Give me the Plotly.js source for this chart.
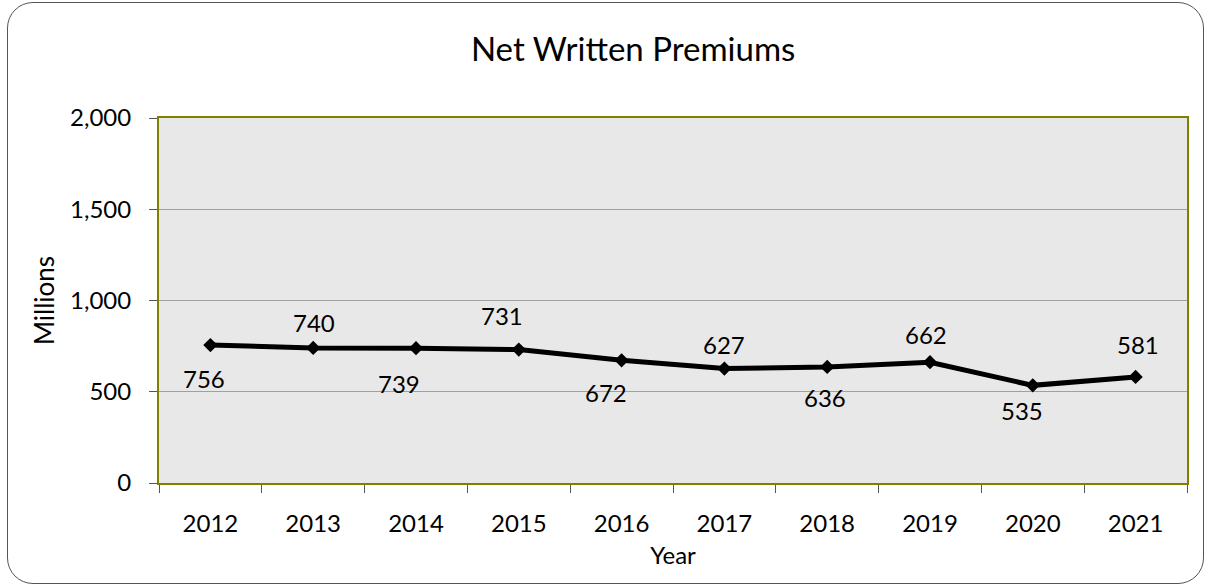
<!DOCTYPE html>
<html>
<head>
<meta charset="utf-8">
<script src="https://cdn.plot.ly/plotly-3.0.1.min.js"></script>
<style>
  html, body { margin: 0; padding: 0; background: #ffffff; }
  #frame { position: absolute; left: 7px; top: 2px; width: 1197px; height: 582px;
           border: 1px solid #555; border-radius: 26px; box-sizing: border-box; }
  #chart { position: absolute; left: 0; top: 0; width: 1206px; height: 586px; }
</style>
</head>
<body>
<div id="frame"></div>
<div id="chart"></div>
<script>
const years = [2012, 2013, 2014, 2015, 2016, 2017, 2018, 2019, 2020, 2021];
const yearLabels = ["2012","2013","2014","2015","2016","2017","2018","2019","2020","2021"];
const premiums = [756, 740, 739, 731, 672, 627, 636, 662, 535, 581];
const yTickValues = [0, 500, 1000, 1500, 2000];
const yTickLabels = ["0", "500", "1,000", "1,500", "2,000"];

// label placement offsets (pixels), styling only
const labelShiftX = [-6, 1, -17, -17, -16, 0, -2, -4, -11, 2];
const labelShiftY = [-33, 25, -35, 34, -32, 24, -31, 28, -25, 32];

const FONT = "Lato, 'Open Sans', sans-serif";

const trace = {
  x: years,
  y: premiums,
  type: "scatter",
  mode: "lines+markers",
  line: { color: "#000000", width: 5 },
  marker: { symbol: "diamond", size: 11, color: "#000000" },
  hoverinfo: "x+y",
  showlegend: false
};

const annotations = years.map((yr, i) => ({
  x: yr, y: premiums[i], xref: "x", yref: "y",
  text: String(premiums[i]), showarrow: false,
  xshift: labelShiftX[i], yshift: labelShiftY[i],
  font: { family: FONT, size: 24, color: "#000000" }
}));

const layout = {
  width: 1206, height: 586,
  margin: { l: 159, r: 19, t: 118, b: 103 },
  paper_bgcolor: "rgba(0,0,0,0)",
  plot_bgcolor: "#e8e8e8",
  font: { family: FONT, color: "#000000" },
  title: { text: "Net Written Premiums", xref: "container", x: 0.525, xanchor: "center",
           y: 0.915, yanchor: "middle",
           font: { family: FONT, size: 33, color: "#000000" } },
  xaxis: {
    type: "linear",
    range: [years[0] - 0.5, years[years.length - 1] + 0.5],
    tickvals: years, ticktext: yearLabels,
    ticks: "", ticklen: 0,
    minor: { tick0: years[0] - 0.5, dtick: 1, ticks: "outside", ticklen: 8,
             tickcolor: "#555555", tickwidth: 1, showgrid: false },
    showline: true, linecolor: "#808000", linewidth: 2, mirror: true,
    showgrid: false, zeroline: false,
    ticklabelstandoff: 18,
    tickfont: { family: FONT, size: 24, color: "#000000" },
    title: { text: "Year", font: { family: FONT, size: 24, color: "#000000" }, standoff: 11 }
  },
  yaxis: {
    range: [0, 2000],
    tickvals: yTickValues, ticktext: yTickLabels,
    ticks: "outside", ticklen: 8, tickcolor: "#555555", tickwidth: 1,
    showline: true, linecolor: "#808000", linewidth: 2, mirror: true,
    showgrid: true, gridcolor: "#a0a0a0", gridwidth: 1,
    zeroline: false,
    ticklabelstandoff: 13,
    tickfont: { family: FONT, size: 24, color: "#000000" },
    title: { text: "Millions", font: { family: FONT, size: 26, color: "#000000" }, standoff: 8 }
  },
  annotations: annotations
};

Plotly.newPlot("chart", [trace], layout, { displayModeBar: false, staticPlot: true });
</script>
</body>
</html>
